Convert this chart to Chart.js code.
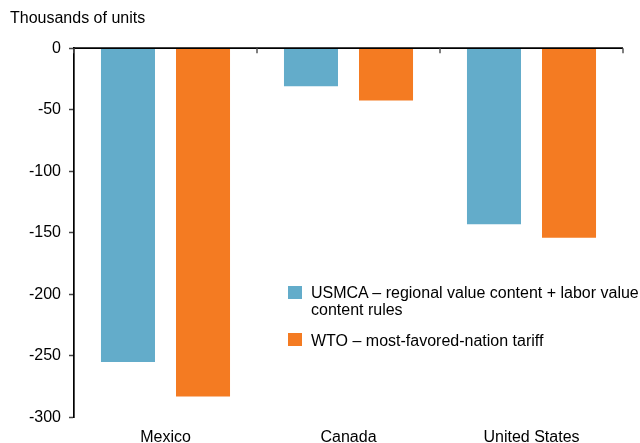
<!DOCTYPE html>
<html>
<head>
<meta charset="utf-8">
<script src="https://cdn.jsdelivr.net/npm/chart.js@4.4.1/dist/chart.umd.min.js"></script>
<style>
  html, body { margin: 0; padding: 0; background: #fff; overflow: hidden; }
  #wrap { position: relative; width: 640px; height: 443px; overflow: hidden; }
  canvas { position: absolute; left: 0; top: 0; }
  .leg { position: absolute; font-family: "Liberation Sans", Arial, sans-serif; font-size: 16px; line-height: 17px; color: #000; white-space: nowrap; }
  .sw { position: absolute; width: 14px; height: 13px; }
</style>
</head>
<body>
<div id="wrap">
  <canvas id="c" width="640" height="443"></canvas>
  <div class="sw" id="sw0" style="left:288px;top:285.5px;"></div>
  <div class="leg" id="lg0" style="left:311px;top:284px;"></div>
  <div class="sw" id="sw1" style="left:288px;top:332.5px;"></div>
  <div class="leg" id="lg1" style="left:311px;top:331.5px;"></div>
</div>
<script>
// ---- data ----
const categories = ['Mexico', 'Canada', 'United States'];
const usmcaValues = [-255, -31, -143];
const wtoValues = [-283, -42.5, -154];
const seriesNames = ['USMCA \u2013 regional value content + labor value\ncontent rules', 'WTO \u2013 most-favored-nation tariff'];
const seriesColors = ['#63ACCA', '#F47B22'];
const yTitle = 'Thousands of units';
const yMin = -300, yMax = 0, yStep = 50;

// ---- legend (HTML text) ----
seriesNames.forEach((n, i) => {
  document.getElementById('sw' + i).style.background = seriesColors[i];
  const el = document.getElementById('lg' + i);
  n.split('\n').forEach((line, k) => {
    if (k) el.appendChild(document.createElement('br'));
    el.appendChild(document.createTextNode(line));
  });
});

const FONT = '"Liberation Sans", Arial, sans-serif';

const zeroTicks = {
  id: 'zeroTicks',
  afterDatasetsDraw(chart) {
    const x = chart.scales.x, y = chart.scales.y;
    const ctx = chart.ctx;
    const y0 = y.getPixelForValue(0);
    ctx.save();
    ctx.strokeStyle = '#000';
    ctx.lineWidth = 1.7;
    ctx.beginPath();
    ctx.moveTo(chart.chartArea.left, y0);
    ctx.lineTo(chart.chartArea.right, y0);
    ctx.stroke();
    ctx.strokeStyle = '#555';
    ctx.lineWidth = 1.5;
    for (let i = 0; i <= categories.length; i++) {
      const px = x.getPixelForValue(i - 0.5);
      ctx.beginPath();
      ctx.moveTo(px, y0);
      ctx.lineTo(px, y0 + 5);
      ctx.stroke();
    }
    ctx.restore();
  }
};

new Chart(document.getElementById('c'), {
  type: 'bar',
  data: {
    labels: categories,
    datasets: [
      { label: seriesNames[0], data: usmcaValues, backgroundColor: seriesColors[0], borderWidth: 0 },
      { label: seriesNames[1], data: wtoValues, backgroundColor: seriesColors[1], borderWidth: 0 }
    ]
  },
  options: {
    responsive: false,
    animation: false,
    datasets: { bar: { categoryPercentage: 0.82, barPercentage: 0.72 } },
    layout: { padding: { left: 10, right: 17, top: 0, bottom: 0 } },
    plugins: {
      legend: { display: false },
      tooltip: { enabled: false },
      title: {
        display: true,
        text: yTitle,
        align: 'start',
        color: '#000',
        font: { family: FONT, size: 16, weight: 'normal' },
        padding: { top: 9, bottom: 20 }
      }
    },
    scales: {
      x: {
        grid: { display: false },
        border: { display: false },
        ticks: { color: '#000', padding: 3, font: { family: FONT, size: 16 } },
        afterFit(scale) { scale.height = 25.7; }
      },
      y: {
        min: yMin,
        max: yMax,
        grid: {
          drawOnChartArea: false,
          drawTicks: true,
          tickLength: 5,
          tickColor: '#444',
          tickWidth: 1.5
        },
        border: { display: true, color: '#000', width: 1.7 },
        ticks: { stepSize: yStep, color: '#000', padding: 8, font: { family: FONT, size: 16 } },
        afterFit(scale) { scale.width = 64; }
      }
    }
  },
  plugins: [zeroTicks]
});
</script>
</body>
</html>
